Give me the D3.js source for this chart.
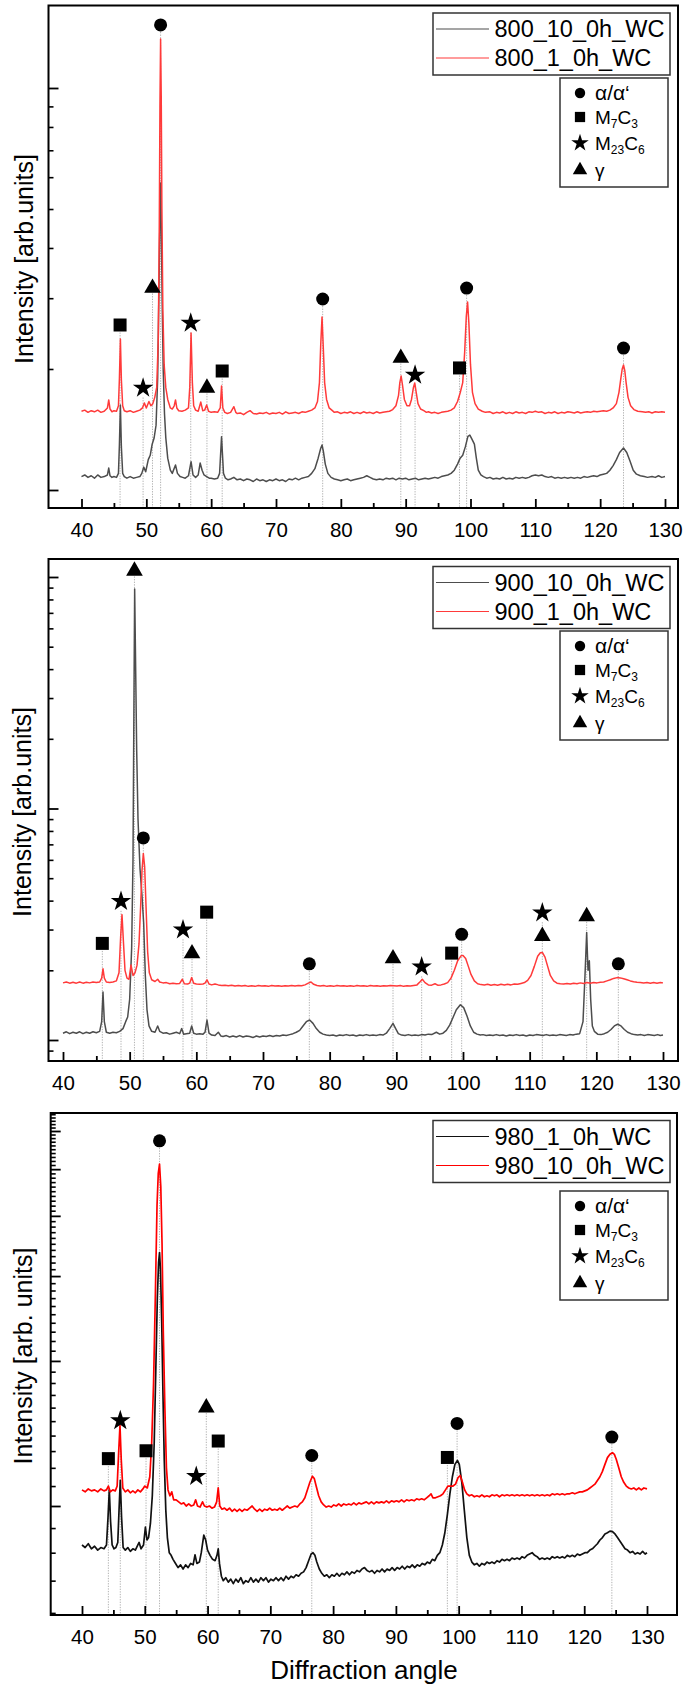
<!DOCTYPE html>
<html><head><meta charset="utf-8">
<script src="https://cdn.jsdelivr.net/npm/d3@7"></script>
<style>body{margin:0;background:#fff}svg{display:block}</style>
</head><body><svg id="c" width="685" height="1692"></svg>
<script>
const FONT = '"Liberation Sans", Arial, sans-serif';
const xMajorTicks = [40,50,60,70,80,90,100,110,120,130];
const xMinorTicks = [45,55,65,75,85,95,105,115,125];
const seriesNames1 = ["800_10_0h_WC","800_1_0h_WC"];
const seriesNames2 = ["900_10_0h_WC","900_1_0h_WC"];
const seriesNames3 = ["980_1_0h_WC","980_10_0h_WC"];
const yMajor1 = [1,10];
const yMinor1 = [2,3,4,5,6,7,8,9];
const yMajor2 = [1,10,100];
const yMinor2 = [0.9,2,3,4,5,6,7,8,9,20,30,40,50,60,70,80,90];
const yMajor3 = [1,2,3,4,5,6];
const yMinor3 = d3.range(6,66).filter(i=>i%10!==0).map(i=>i/10);

const p1Gray = [[40,1.08],[40.5,1.09],[41,1.075],[41.5,1.085],[42,1.07],[42.5,1.09],[43,1.075],[43.5,1.08],[44,1.09],[44.2,1.134],[44.4,1.085],[44.7,1.075],[45,1.08],[45.4,1.075],[45.7,1.1],[45.85,1.3],[46,1.627],[46.15,1.28],[46.35,1.1],[46.6,1.08],[47,1.07],[47.5,1.08],[48,1.07],[48.5,1.075],[49,1.08],[49.3,1.1],[49.6,1.14],[49.9,1.11],[50.3,1.19],[50.6,1.22],[50.9,1.3],[51.2,1.347],[51.5,1.45],[51.75,1.9],[51.95,3.2],[52.1,4.8],[52.2,5.8],[52.3,4.6],[52.45,2.9],[52.6,2],[52.8,1.55],[53,1.35],[53.3,1.2],[53.7,1.12],[54,1.1],[54.5,1.154],[54.8,1.1],[55.2,1.08],[55.6,1.075],[56,1.07],[56.5,1.085],[56.9,1.176],[57.2,1.09],[57.6,1.075],[58,1.09],[58.3,1.167],[58.6,1.12],[58.9,1.09],[59.3,1.08],[59.7,1.07],[60,1.07],[60.5,1.065],[61,1.07],[61.3,1.1],[61.6,1.357],[61.9,1.1],[62.2,1.07],[62.6,1.06],[63,1.065],[63.5,1.075],[64,1.06],[64.5,1.065],[65,1.055],[65.5,1.065],[66,1.06],[66.5,1.05],[67,1.065],[67.5,1.055],[68,1.06],[68.5,1.05],[69,1.06],[69.5,1.055],[70,1.065],[70.5,1.055],[71,1.06],[71.5,1.05],[72,1.065],[72.5,1.06],[73,1.07],[73.5,1.06],[74,1.07],[74.5,1.075],[75,1.08],[75.5,1.1],[76,1.13],[76.5,1.2],[76.9,1.27],[77.1,1.294],[77.3,1.25],[77.6,1.16],[78,1.1],[78.5,1.075],[79,1.065],[79.5,1.06],[80,1.055],[80.5,1.06],[81,1.065],[81.5,1.055],[82,1.06],[82.5,1.065],[83,1.07],[83.5,1.075],[84,1.085],[84.5,1.075],[85,1.065],[85.5,1.06],[86,1.065],[86.5,1.06],[87,1.07],[87.5,1.065],[88,1.07],[88.5,1.06],[89,1.07],[89.5,1.065],[90,1.07],[90.5,1.06],[91,1.065],[91.5,1.07],[92,1.06],[92.5,1.065],[93,1.07],[93.5,1.065],[94,1.07],[94.5,1.075],[95,1.07],[95.5,1.08],[96,1.085],[96.5,1.09],[97,1.1],[97.5,1.12],[98,1.16],[98.4,1.2],[98.8,1.22],[99.2,1.28],[99.6,1.36],[99.9,1.37],[100.2,1.34],[100.6,1.3],[100.9,1.2],[101.2,1.12],[101.6,1.09],[102,1.08],[102.5,1.07],[103,1.075],[103.5,1.065],[104,1.07],[104.5,1.065],[105,1.075],[105.5,1.065],[106,1.07],[106.5,1.065],[107,1.075],[107.5,1.07],[108,1.075],[108.5,1.07],[109,1.075],[109.5,1.085],[110,1.09],[110.5,1.085],[111,1.09],[111.5,1.08],[112,1.075],[112.5,1.08],[113,1.07],[113.5,1.075],[114,1.07],[114.5,1.075],[115,1.07],[115.5,1.075],[116,1.07],[116.5,1.075],[117,1.07],[117.5,1.08],[118,1.075],[118.5,1.08],[119,1.085],[119.5,1.08],[120,1.09],[120.5,1.095],[121,1.1],[121.5,1.12],[122,1.15],[122.5,1.19],[123,1.24],[123.6,1.272],[124.1,1.24],[124.6,1.18],[125.1,1.12],[125.6,1.095],[126.2,1.085],[126.8,1.08],[127.3,1.075],[128,1.08],[128.5,1.075],[129,1.085],[129.5,1.075],[130,1.08]];

const p1Red = [[40,1.57],[40.5,1.58],[41,1.56],[41.5,1.575],[42,1.565],[42.5,1.58],[43,1.56],[43.5,1.57],[44,1.6],[44.2,1.675],[44.4,1.59],[44.7,1.565],[45,1.575],[45.4,1.57],[45.7,1.62],[45.85,1.9],[46,2.375],[46.15,1.88],[46.35,1.62],[46.6,1.575],[47,1.565],[47.5,1.575],[48,1.56],[48.5,1.57],[49,1.58],[49.4,1.6],[49.7,1.646],[50,1.6],[50.4,1.66],[50.7,1.62],[51,1.64],[51.3,1.7],[51.6,1.8],[51.85,2.4],[52,4.6],[52.1,9],[52.2,13.24],[52.3,9.5],[52.4,5],[52.55,2.8],[52.75,2.05],[53,1.8],[53.3,1.68],[53.7,1.6],[54,1.59],[54.3,1.62],[54.5,1.675],[54.7,1.6],[55,1.575],[55.5,1.57],[56,1.58],[56.5,1.6],[56.7,1.8],[56.9,2.458],[57.1,1.85],[57.3,1.62],[57.6,1.58],[58,1.57],[58.4,1.655],[58.7,1.575],[59,1.58],[59.3,1.627],[59.6,1.57],[60,1.56],[60.5,1.565],[61,1.56],[61.4,1.6],[61.6,1.814],[61.8,1.6],[62.1,1.56],[62.5,1.55],[63,1.56],[63.5,1.611],[63.8,1.56],[64,1.55],[64.5,1.555],[65,1.54],[65.5,1.56],[66,1.575],[66.5,1.55],[67,1.545],[67.5,1.555],[68,1.55],[68.5,1.56],[69,1.545],[69.5,1.555],[70,1.55],[70.5,1.56],[71,1.545],[71.5,1.565],[72,1.55],[72.5,1.555],[73,1.56],[73.5,1.55],[74,1.565],[74.5,1.56],[75,1.57],[75.5,1.58],[76,1.6],[76.4,1.66],[76.7,1.85],[76.9,2.3],[77.1,2.694],[77.3,2.25],[77.5,1.85],[77.8,1.68],[78.2,1.6],[78.7,1.575],[79,1.56],[79.5,1.565],[80,1.55],[80.5,1.56],[81,1.555],[81.5,1.565],[82,1.55],[82.5,1.56],[83,1.55],[83.5,1.565],[84,1.555],[84.5,1.56],[85,1.55],[85.5,1.565],[86,1.555],[86.5,1.56],[87,1.565],[87.5,1.57],[88,1.585],[88.5,1.62],[88.9,1.72],[89.1,1.85],[89.3,1.921],[89.5,1.83],[89.8,1.68],[90.2,1.62],[90.6,1.62],[90.9,1.68],[91.2,1.8],[91.4,1.846],[91.6,1.76],[91.9,1.64],[92.3,1.59],[92.8,1.575],[93.2,1.56],[93.5,1.565],[94,1.555],[94.5,1.56],[95,1.55],[95.5,1.56],[96,1.565],[96.5,1.57],[97,1.58],[97.5,1.6],[98,1.66],[98.4,1.743],[98.8,1.85],[99.1,2.2],[99.35,2.7],[99.55,2.936],[99.75,2.6],[100,2.05],[100.3,1.75],[100.7,1.64],[101.2,1.59],[101.8,1.57],[102.3,1.56],[103,1.565],[103.5,1.55],[104,1.56],[104.5,1.555],[105,1.565],[105.5,1.55],[106,1.56],[106.5,1.55],[107,1.565],[107.5,1.555],[108,1.56],[108.5,1.55],[109,1.565],[109.5,1.56],[110,1.57],[110.5,1.56],[111,1.565],[111.5,1.55],[112,1.56],[112.5,1.555],[113,1.565],[113.5,1.55],[114,1.56],[114.5,1.555],[115,1.565],[115.5,1.56],[116,1.555],[116.5,1.565],[117,1.555],[117.5,1.56],[118,1.565],[118.5,1.56],[119,1.57],[119.5,1.565],[120,1.57],[120.5,1.575],[121,1.57],[121.5,1.58],[122,1.6],[122.5,1.64],[122.9,1.75],[123.2,1.9],[123.4,2],[123.6,2.046],[123.8,1.98],[124,1.85],[124.3,1.7],[124.7,1.62],[125.2,1.585],[125.8,1.57],[126.5,1.565],[127,1.56],[127.5,1.565],[128,1.555],[128.5,1.565],[129,1.56],[129.5,1.565],[130,1.56]];

const p2Gray = [[40,1.07],[40.5,1.085],[41,1.065],[41.5,1.08],[42,1.07],[42.5,1.085],[43,1.065],[43.5,1.08],[44,1.07],[44.5,1.085],[45,1.075],[45.5,1.09],[45.8,1.2],[46,1.613],[46.2,1.2],[46.5,1.08],[47,1.07],[47.5,1.08],[48,1.075],[48.5,1.09],[49,1.12],[49.4,1.2],[49.7,1.257],[50,1.5],[50.3,2.5],[50.5,6],[50.63,25],[50.75,88.7],[50.9,40],[51.05,18],[51.25,9],[51.55,5.5],[51.85,4.2],[52.1,3.2],[52.35,1.9],[52.6,1.35],[52.9,1.15],[53.3,1.09],[53.8,1.08],[54.2,1.15],[54.5,1.09],[55,1.07],[55.5,1.075],[56,1.06],[56.5,1.07],[57,1.08],[57.5,1.065],[57.8,1.12],[58.1,1.06],[58.5,1.065],[59,1.07],[59.3,1.15],[59.6,1.07],[60,1.06],[60.5,1.065],[61,1.06],[61.3,1.08],[61.6,1.22],[61.9,1.07],[62.3,1.05],[62.8,1.045],[63.3,1.08],[63.7,1.04],[64,1.035],[64.5,1.045],[65,1.03],[65.5,1.04],[66,1.03],[66.5,1.045],[67,1.03],[67.5,1.04],[68,1.035],[68.5,1.025],[69,1.04],[69.5,1.03],[70,1.04],[70.5,1.035],[71,1.045],[71.5,1.035],[72,1.045],[72.5,1.04],[73,1.05],[73.5,1.045],[74,1.055],[74.5,1.065],[75,1.08],[75.5,1.1],[76,1.15],[76.5,1.2],[77,1.22],[77.5,1.18],[78,1.12],[78.5,1.08],[79,1.06],[79.5,1.05],[80,1.045],[80.5,1.05],[81,1.04],[81.5,1.05],[82,1.045],[82.5,1.055],[83,1.045],[83.5,1.05],[84,1.04],[84.5,1.05],[85,1.045],[85.5,1.055],[86,1.045],[86.5,1.05],[87,1.045],[87.5,1.055],[88,1.05],[88.5,1.07],[89,1.12],[89.5,1.18],[89.9,1.12],[90.3,1.065],[90.8,1.05],[91.3,1.045],[91.8,1.055],[92.3,1.045],[92.8,1.05],[93.3,1.045],[93.8,1.055],[94.3,1.05],[94.8,1.06],[95.3,1.055],[96,1.08],[96.5,1.06],[97,1.07],[97.5,1.1],[98,1.16],[98.5,1.25],[99,1.35],[99.6,1.42],[100.1,1.38],[100.6,1.27],[101.1,1.15],[101.6,1.08],[102.1,1.06],[102.6,1.05],[103,1.055],[103.5,1.045],[104,1.05],[104.5,1.045],[105,1.055],[105.5,1.045],[106,1.05],[106.5,1.04],[107,1.05],[107.5,1.045],[108,1.055],[108.5,1.045],[109,1.05],[109.5,1.04],[110,1.05],[110.5,1.045],[111,1.055],[111.5,1.05],[112,1.045],[112.5,1.055],[113,1.045],[113.5,1.05],[114,1.045],[114.5,1.055],[115,1.05],[115.5,1.045],[116,1.055],[116.5,1.05],[117,1.06],[117.5,1.065],[118,1.2],[118.3,1.9],[118.55,2.91],[118.75,2],[118.95,2.2],[119.15,1.5],[119.4,1.15],[119.7,1.09],[120.2,1.06],[120.7,1.055],[121.2,1.065],[121.7,1.08],[122.2,1.11],[122.7,1.15],[123.2,1.17],[123.7,1.15],[124.2,1.11],[124.7,1.08],[125.2,1.065],[125.7,1.055],[126.2,1.05],[126.7,1.055],[127.2,1.045],[127.7,1.055],[128.2,1.05],[128.7,1.045],[129.2,1.055],[129.6,1.045],[130,1.05]];

const p2Red = [[40,1.765],[40.5,1.78],[41,1.76],[41.5,1.775],[42,1.76],[42.5,1.78],[43,1.76],[43.5,1.775],[44,1.765],[44.5,1.78],[45,1.77],[45.5,1.78],[45.8,1.85],[46,2.03],[46.2,1.85],[46.5,1.78],[47,1.77],[47.5,1.78],[48,1.8],[48.4,1.95],[48.65,2.8],[48.85,3.48],[49.05,2.7],[49.3,2],[49.6,1.85],[49.9,1.83],[50.2,2.11],[50.5,1.9],[50.8,1.95],[51.1,2.1],[51.4,2.6],[51.65,3.8],[51.85,5.4],[52.05,6.39],[52.25,5.6],[52.45,3.8],[52.7,2.4],[52.95,1.95],[53.3,1.82],[53.8,1.79],[54.2,1.83],[54.5,1.78],[55,1.765],[55.5,1.77],[56,1.75],[56.5,1.76],[57,1.75],[57.5,1.755],[57.9,1.83],[58.2,1.75],[58.7,1.745],[59,1.76],[59.3,1.86],[59.6,1.76],[60,1.745],[60.5,1.74],[61,1.745],[61.3,1.76],[61.6,1.82],[61.9,1.745],[62.3,1.73],[62.8,1.745],[63.3,1.73],[63.8,1.72],[64.3,1.725],[64.8,1.715],[65.3,1.725],[65.8,1.71],[66.3,1.72],[66.8,1.71],[67.3,1.72],[67.8,1.705],[68.3,1.715],[68.8,1.705],[69.3,1.72],[69.8,1.71],[70.3,1.715],[70.8,1.705],[71.3,1.72],[71.8,1.71],[72.3,1.715],[72.8,1.705],[73.3,1.715],[73.8,1.71],[74.3,1.72],[74.8,1.71],[75.3,1.72],[75.8,1.715],[76.3,1.73],[76.8,1.76],[77.2,1.78],[77.6,1.74],[78.1,1.72],[78.6,1.71],[79.1,1.72],[79.6,1.705],[80.1,1.715],[80.6,1.705],[81.1,1.72],[81.6,1.71],[82.1,1.715],[82.6,1.705],[83.1,1.715],[83.6,1.705],[84.1,1.72],[84.6,1.71],[85.1,1.715],[85.6,1.705],[86.1,1.72],[86.6,1.71],[87.1,1.715],[87.6,1.705],[88.1,1.715],[88.6,1.71],[89.1,1.72],[89.6,1.715],[90.1,1.71],[90.6,1.72],[91.1,1.705],[91.6,1.715],[92.1,1.71],[92.6,1.72],[93.1,1.73],[93.6,1.79],[93.9,1.83],[94.3,1.77],[94.8,1.73],[95.3,1.725],[95.8,1.75],[96.2,1.725],[96.7,1.73],[97.2,1.745],[97.7,1.77],[98.2,1.85],[98.7,2],[99.2,2.2],[99.7,2.31],[100,2.32],[100.4,2.25],[100.8,2.08],[101.2,1.92],[101.7,1.8],[102.2,1.75],[102.7,1.735],[103.2,1.73],[103.7,1.74],[104.2,1.725],[104.7,1.735],[105.2,1.725],[105.7,1.74],[106.2,1.73],[106.7,1.74],[107.2,1.73],[107.7,1.745],[108.2,1.74],[108.7,1.755],[109.2,1.77],[109.7,1.81],[110.2,1.9],[110.7,2.08],[111.2,2.3],[111.6,2.38],[111.9,2.39],[112.3,2.28],[112.7,2.08],[113.1,1.9],[113.6,1.8],[114.1,1.76],[114.6,1.75],[115.1,1.745],[115.6,1.755],[116.1,1.745],[116.6,1.76],[117.1,1.75],[117.6,1.765],[118.1,1.755],[118.6,1.77],[119.1,1.76],[119.6,1.77],[120.1,1.765],[120.6,1.775],[121.1,1.78],[121.6,1.8],[122.1,1.82],[122.6,1.845],[123.1,1.86],[123.6,1.855],[124.1,1.84],[124.6,1.82],[125.1,1.8],[125.6,1.785],[126.1,1.775],[126.6,1.77],[127.1,1.765],[127.6,1.77],[128.1,1.76],[128.6,1.77],[129.1,1.76],[129.6,1.77],[130,1.765]];

const p3Black = [[40,0.83],[40.5,0.82],[41,0.835],[41.5,0.815],[42,0.825],[42.5,0.81],[43,0.82],[43.5,0.815],[43.9,0.83],[44.15,0.95],[44.35,1.08],[44.55,0.93],[44.8,0.83],[45.1,0.815],[45.4,0.82],[45.7,0.84],[45.9,0.98],[46.1,1.131],[46.3,0.95],[46.55,0.82],[46.9,0.81],[47.3,0.82],[47.7,0.805],[48.1,0.815],[48.5,0.81],[48.9,0.83],[49.1,0.84],[49.4,0.815],[49.8,0.83],[50.1,0.904],[50.35,0.85],[50.6,0.86],[50.9,0.92],[51.2,1.05],[51.5,1.35],[51.75,1.9],[52,2.7],[52.2,3.2],[52.35,3.356],[52.5,3.1],[52.7,2.4],[52.9,1.7],[53.1,1.25],[53.35,0.98],[53.6,0.86],[53.9,0.8],[54.2,0.79],[54.5,0.775],[54.9,0.76],[55.3,0.745],[55.7,0.755],[56.1,0.74],[56.5,0.755],[56.9,0.745],[57.3,0.76],[57.7,0.755],[58,0.792],[58.3,0.76],[58.7,0.765],[59,0.8],[59.4,0.87],[59.7,0.85],[60,0.81],[60.4,0.79],[60.8,0.775],[61.2,0.77],[61.5,0.79],[61.7,0.815],[61.9,0.76],[62.2,0.715],[62.5,0.7],[62.9,0.71],[63.3,0.695],[63.7,0.705],[64.1,0.69],[64.5,0.705],[64.9,0.695],[65.3,0.71],[65.7,0.69],[66.1,0.7],[66.5,0.695],[66.9,0.71],[67.3,0.695],[67.7,0.705],[68.1,0.695],[68.5,0.71],[68.9,0.7],[69.3,0.71],[69.7,0.695],[70.1,0.705],[70.5,0.7],[70.9,0.71],[71.3,0.7],[71.7,0.71],[72.1,0.7],[72.5,0.715],[72.9,0.705],[73.3,0.715],[73.7,0.71],[74.1,0.72],[74.5,0.715],[74.9,0.725],[75.3,0.73],[75.7,0.745],[76.1,0.77],[76.5,0.795],[76.8,0.8],[77.1,0.79],[77.4,0.765],[77.8,0.74],[78.2,0.725],[78.6,0.715],[79,0.72],[79.4,0.71],[79.8,0.72],[80.2,0.715],[80.6,0.725],[81,0.715],[81.4,0.725],[81.8,0.72],[82.2,0.73],[82.6,0.72],[83,0.73],[83.4,0.725],[83.8,0.735],[84.2,0.73],[84.6,0.74],[85,0.745],[85.4,0.735],[85.8,0.73],[86.2,0.735],[86.6,0.725],[87,0.735],[87.4,0.73],[87.8,0.74],[88.2,0.73],[88.6,0.74],[89,0.735],[89.4,0.745],[89.8,0.735],[90.2,0.745],[90.6,0.74],[91,0.75],[91.4,0.74],[91.8,0.75],[92.2,0.745],[92.6,0.755],[93,0.745],[93.4,0.755],[93.8,0.75],[94.2,0.76],[94.6,0.755],[95,0.765],[95.4,0.76],[95.8,0.775],[96.2,0.77],[96.6,0.79],[97,0.8],[97.4,0.83],[97.8,0.88],[98.2,0.96],[98.6,1.06],[99,1.15],[99.4,1.22],[99.8,1.243],[100.1,1.22],[100.5,1.12],[100.9,0.98],[101.3,0.86],[101.7,0.79],[102.1,0.765],[102.5,0.755],[102.9,0.76],[103.3,0.75],[103.7,0.76],[104.1,0.755],[104.5,0.765],[104.9,0.76],[105.3,0.765],[105.7,0.76],[106.1,0.77],[106.5,0.765],[106.9,0.775],[107.3,0.77],[107.7,0.775],[108.1,0.77],[108.5,0.78],[108.9,0.775],[109.3,0.78],[109.7,0.775],[110.1,0.785],[110.5,0.78],[110.9,0.79],[111.3,0.795],[111.7,0.8],[112.1,0.79],[112.5,0.785],[112.9,0.775],[113.3,0.78],[113.7,0.775],[114.1,0.78],[114.5,0.775],[114.9,0.785],[115.3,0.78],[115.7,0.785],[116.1,0.78],[116.5,0.785],[116.9,0.78],[117.3,0.79],[117.7,0.785],[118.1,0.79],[118.5,0.785],[118.9,0.795],[119.3,0.79],[119.7,0.795],[120.1,0.8],[120.5,0.8],[120.9,0.81],[121.3,0.815],[121.7,0.825],[122.1,0.835],[122.5,0.85],[122.9,0.86],[123.3,0.875],[123.7,0.88],[124.1,0.887],[124.5,0.885],[124.9,0.875],[125.3,0.86],[125.7,0.845],[126.1,0.83],[126.5,0.815],[126.9,0.81],[127.3,0.8],[127.7,0.805],[128.1,0.795],[128.5,0.8],[128.9,0.795],[129.3,0.805],[129.7,0.795],[130,0.8]];

const p3Red = [[40,1.08],[40.5,1.07],[41,1.085],[41.5,1.075],[42,1.08],[42.5,1.07],[43,1.085],[43.5,1.075],[43.9,1.08],[44.2,1.1],[44.5,1.07],[44.9,1.08],[45.3,1.075],[45.6,1.1],[45.85,1.3],[46.05,1.471],[46.25,1.25],[46.5,1.09],[46.9,1.07],[47.3,1.08],[47.7,1.065],[48.1,1.075],[48.5,1.065],[48.9,1.08],[49.3,1.07],[49.7,1.085],[50,1.1],[50.4,1.09],[50.8,1.15],[51.1,1.35],[51.4,1.8],[51.7,2.8],[51.95,4.2],[52.15,4.9],[52.35,5.12],[52.55,4.6],[52.75,3.5],[52.95,2.3],[53.2,1.6],[53.45,1.2],[53.7,1.08],[54,1.05],[54.3,1.07],[54.6,1.03],[55,1.03],[55.4,1.02],[55.8,1.01],[56.2,1.015],[56.6,1],[57,1.01],[57.4,1],[57.8,1.005],[58.1,1.03],[58.4,1],[58.8,0.995],[59.2,1.02],[59.5,1],[59.9,0.995],[60.3,1],[60.7,0.99],[61.1,0.995],[61.45,1.02],[61.7,1.09],[61.95,1],[62.3,0.985],[62.7,0.99],[63.1,0.98],[63.5,0.99],[63.9,0.975],[64.3,0.985],[64.7,0.975],[65.1,0.985],[65.5,0.975],[65.9,0.985],[66.3,0.98],[66.7,0.99],[67.1,1],[67.5,0.985],[67.9,0.975],[68.3,0.985],[68.7,0.975],[69.1,0.985],[69.5,0.98],[69.9,0.99],[70.3,0.98],[70.7,0.985],[71.1,0.98],[71.5,0.99],[71.9,0.98],[72.3,0.99],[72.7,1],[73.1,0.99],[73.5,0.995],[73.9,1],[74.3,0.995],[74.7,1.01],[75.1,1.02],[75.5,1.04],[75.9,1.08],[76.3,1.12],[76.7,1.153],[77,1.14],[77.3,1.1],[77.7,1.05],[78.1,1.02],[78.5,1.005],[78.9,0.995],[79.3,1],[79.7,0.995],[80.1,1.005],[80.5,1],[80.9,1.01],[81.3,1],[81.7,1.01],[82.1,1.005],[82.5,1.01],[82.9,1.005],[83.3,1.015],[83.7,1.005],[84.1,1.015],[84.5,1.01],[84.9,1.015],[85.3,1.02],[85.7,1.01],[86.1,1.02],[86.5,1.01],[86.9,1.02],[87.3,1.015],[87.7,1.02],[88.1,1.015],[88.5,1.025],[88.9,1.015],[89.3,1.025],[89.7,1.02],[90.1,1.025],[90.5,1.02],[90.9,1.03],[91.3,1.02],[91.7,1.03],[92.1,1.025],[92.5,1.03],[92.9,1.025],[93.3,1.035],[93.7,1.03],[94.1,1.035],[94.5,1.03],[94.9,1.04],[95.3,1.05],[95.6,1.06],[95.9,1.04],[96.3,1.04],[96.7,1.045],[97.1,1.05],[97.5,1.06],[97.9,1.08],[98.3,1.1],[98.7,1.1],[99.1,1.1],[99.5,1.11],[99.9,1.145],[100.25,1.157],[100.6,1.12],[100.95,1.08],[101.3,1.06],[101.7,1.05],[102.1,1.055],[102.5,1.045],[102.9,1.05],[103.3,1.045],[103.7,1.055],[104.1,1.045],[104.5,1.05],[104.9,1.045],[105.3,1.055],[105.7,1.05],[106.1,1.055],[106.5,1.045],[106.9,1.055],[107.3,1.05],[107.7,1.055],[108.1,1.05],[108.5,1.055],[108.9,1.05],[109.3,1.055],[109.7,1.05],[110.1,1.055],[110.5,1.05],[110.9,1.055],[111.3,1.05],[111.7,1.055],[112.1,1.05],[112.5,1.055],[112.9,1.05],[113.3,1.055],[113.7,1.05],[114.1,1.055],[114.5,1.05],[114.9,1.06],[115.3,1.055],[115.7,1.06],[116.1,1.055],[116.5,1.06],[116.9,1.055],[117.3,1.06],[117.7,1.06],[118.1,1.065],[118.5,1.06],[118.9,1.065],[119.3,1.07],[119.7,1.07],[120.1,1.075],[120.5,1.08],[120.9,1.09],[121.3,1.1],[121.7,1.11],[122.1,1.13],[122.5,1.15],[122.9,1.18],[123.3,1.22],[123.7,1.26],[124.1,1.28],[124.5,1.29],[124.8,1.28],[125.1,1.25],[125.5,1.2],[125.9,1.15],[126.3,1.12],[126.7,1.1],[127.1,1.09],[127.5,1.085],[127.9,1.09],[128.3,1.08],[128.7,1.09],[129.1,1.08],[129.5,1.09],[130,1.085]];

// markers: [phase, angle, intensity, guide line]
const p1Markers = [["circle",52.2,14.35,1],["square",45.95,2.573,1],["triangle",50.95,3.18,1],["star",56.85,2.603,1],["star",49.5,1.794,1],["triangle",59.35,1.794,1],["square",61.7,1.977,1],["circle",77.2,2.986,1],["triangle",89.25,2.13,1],["star",91.45,1.932,1],["square",98.3,2.012,1],["circle",99.4,3.18,1],["circle",123.6,2.255,1]];
const p2Markers = [["triangle",50.72,106.2,1],["circle",52.05,7.46,1],["star",48.7,3.973,1],["square",45.9,2.614,1],["star",58.0,2.994,1],["triangle",59.35,2.364,1],["square",61.55,3.567,1],["circle",76.95,2.133,1],["triangle",89.5,2.249,1],["star",93.8,2.07,1],["square",98.3,2.373,1],["circle",99.8,2.86,1],["star",111.9,3.547,1],["triangle",111.9,2.81,0],["triangle",118.55,3.419,1],["circle",123.3,2.133,1]];
const p3Markers = [["circle",52.35,5.724,1],["star",46.1,1.504,1],["square",44.2,1.254,1],["square",50.2,1.302,1],["star",58.2,1.153,0],["triangle",59.8,1.6,1],["square",61.7,1.364,1],["circle",76.6,1.273,1],["square",98.2,1.261,1],["circle",99.75,1.484,1],["circle",124.4,1.39,1]];

const phaseLegend = [["circle",[["α/α‘",0]]],["square",[["M",0],["7",1],["C",0],["3",1]]],["star",[["M",0],["23",1],["C",0],["6",1]]],["triangle",[["γ",0]]]];

const panels = [
 {names:seriesNames1,data:[p1Gray,p1Red],colors:["#4d4d4d","#ff3a3a"],widths:[1.5,1.5],markers:p1Markers,
  frame:{l:48.5,r:678,t:5.5,b:508},xPx:[81.5,665],yRef:[1,10],yPx:[490,88],yMajor:yMajor1,yMinor:yMinor1,
  yLabel:"Intensity [arb.units]",yLabelX:33,yLabelY:259,legGap:3},
 {names:seriesNames2,data:[p2Gray,p2Red],colors:["#4d4d4d","#ff3a3a"],widths:[1.5,1.5],markers:p2Markers,
  frame:{l:48.5,r:678,t:559,b:1061},xPx:[63,663],yRef:[1,100],yPx:[1040,577],yMajor:yMajor2,yMinor:yMinor2,
  yLabel:"Intensity [arb.units]",yLabelX:31,yLabelY:812,legGap:2.5},
 {names:seriesNames3,data:[p3Black,p3Red],colors:["#111111","#ff0000"],widths:[1.7,1.7],markers:p3Markers,
  frame:{l:50.7,r:677,t:1113,b:1615},xPx:[82,647],yRef:[1,6],yPx:[1506,1131],yMajor:yMajor3,yMinor:yMinor3,
  yLabel:"Intensity [arb. units]",yLabelX:31.5,yLabelY:1356,legGap:8.5}
];

const svg = d3.select("#c");
const symType = {circle:d3.symbolCircle,square:d3.symbolSquare,star:d3.symbolStar,triangle:d3.symbolTriangle};
const symSize = {circle:133,square:169,star:130,triangle:120};
const legSize = {circle:85,square:105,star:95,triangle:90};
const guideOff = {circle:7,square:7.5,star:9.5,triangle:5.5};
const defs = svg.append("defs");

panels.forEach((p,i)=>{
  const f = p.frame;
  const x = d3.scaleLinear().domain([40,130]).range(p.xPx);
  const y = d3.scaleLog().domain(p.yRef).range(p.yPx);
  defs.append("clipPath").attr("id","clip"+i).append("rect")
    .attr("x",f.l).attr("y",f.t).attr("width",f.r-f.l).attr("height",f.b-f.t);
  const g = svg.append("g");

  g.append("g").selectAll("line").data(p.markers.filter(m=>m[3])).join("line")
    .attr("x1",m=>x(m[1])).attr("x2",m=>x(m[1]))
    .attr("y1",m=>y(m[2])+guideOff[m[0]]).attr("y2",f.b)
    .attr("stroke","#a9a9a9").attr("stroke-width",0.9).attr("stroke-dasharray","1.3,1.3");

  const line = d3.line().x(d=>x(d[0])).y(d=>y(d[1]));
  p.data.forEach((s,k)=>{
    g.append("path").attr("d",line(s)).attr("fill","none")
      .attr("stroke",p.colors[k]).attr("stroke-width",p.widths[k]).attr("stroke-linejoin","round")
      .attr("clip-path",`url(#clip${i})`);
  });

  g.append("g").selectAll("path").data(p.markers).join("path")
    .attr("d",m=>d3.symbol().type(symType[m[0]]).size(symSize[m[0]])())
    .attr("transform",m=>`translate(${x(m[1])},${y(m[2])})`).attr("fill","#000");

  const xa = g.append("g").attr("transform",`translate(0,${f.b})`)
    .call(d3.axisBottom(x).tickValues(xMajorTicks).tickSize(-9).tickPadding(14).tickFormat(d=>String(d)));
  xa.select(".domain").remove();
  xa.attr("font-size",20.5).attr("font-family",FONT);
  xa.selectAll("line").attr("stroke-width",1.8);
  xa.selectAll("text").attr("fill","#000");
  const xm = g.append("g").attr("transform",`translate(0,${f.b})`)
    .call(d3.axisBottom(x).tickValues(xMinorTicks).tickSize(-5).tickFormat(""));
  xm.select(".domain").remove();
  xm.selectAll("line").attr("stroke-width",1.8);

  const ya = g.append("g").attr("transform",`translate(${f.l},0)`)
    .call(d3.axisLeft(y).tickValues(p.yMajor).tickSize(-10).tickFormat(""));
  ya.select(".domain").remove();
  ya.selectAll("line").attr("stroke-width",1.8);
  const ym = g.append("g").attr("transform",`translate(${f.l},0)`)
    .call(d3.axisLeft(y).tickValues(p.yMinor).tickSize(-5).tickFormat(""));
  ym.select(".domain").remove();
  ym.selectAll("line").attr("stroke-width",1.6);

  g.append("rect").attr("x",f.l).attr("y",f.t).attr("width",f.r-f.l).attr("height",f.b-f.t)
    .attr("fill","none").attr("stroke","#000").attr("stroke-width",2);

  g.append("text").attr("transform",`translate(${p.yLabelX},${p.yLabelY}) rotate(-90)`)
    .attr("text-anchor","middle").attr("font-family",FONT).attr("font-size",25).text(p.yLabel);

  const b1 = {x:433,y:f.t+7.5,w:237,h:62};
  g.append("rect").attr("x",b1.x).attr("y",b1.y).attr("width",b1.w).attr("height",b1.h)
    .attr("fill","#fff").attr("stroke","#333").attr("stroke-width",1.5);
  p.names.forEach((nm,k)=>{
    const ly = b1.y+16+k*29;
    g.append("line").attr("x1",436).attr("x2",489).attr("y1",ly).attr("y2",ly)
      .attr("stroke",p.colors[k]).attr("stroke-width",1.2);
    g.append("text").attr("x",494.5).attr("y",ly+8.4).attr("font-family",FONT).attr("font-size",23.5).text(nm);
  });
  const b2 = {x:560,y:b1.y+b1.h+p.legGap,w:108,h:109};
  g.append("rect").attr("x",b2.x).attr("y",b2.y).attr("width",b2.w).attr("height",b2.h)
    .attr("fill","#fff").attr("stroke","#333").attr("stroke-width",1.5);
  const rowY = [15,39,65,92];
  phaseLegend.forEach((ph,k)=>{
    const cy = b2.y+rowY[k];
    g.append("path").attr("d",d3.symbol().type(symType[ph[0]]).size(legSize[ph[0]])())
      .attr("transform",`translate(${b2.x+20},${cy})`).attr("fill","#000");
    const t = g.append("text").attr("x",b2.x+35).attr("y",cy+(k===0?7:6.5)).attr("font-family",FONT).attr("font-size",k===0?21:19);
    let shifted = false;
    ph[1].forEach(([s,sub])=>{
      const ts = t.append("tspan").text(s);
      if (sub && !shifted) { ts.attr("dy",4.5).attr("font-size",12); shifted = true; }
      else if (!sub && shifted) { ts.attr("dy",-4.5); shifted = false; }
    });
  });
});

svg.append("text").attr("x",364).attr("y",1679).attr("text-anchor","middle")
  .attr("font-family",FONT).attr("font-size",26).text("Diffraction angle");
</script>
</body></html>
